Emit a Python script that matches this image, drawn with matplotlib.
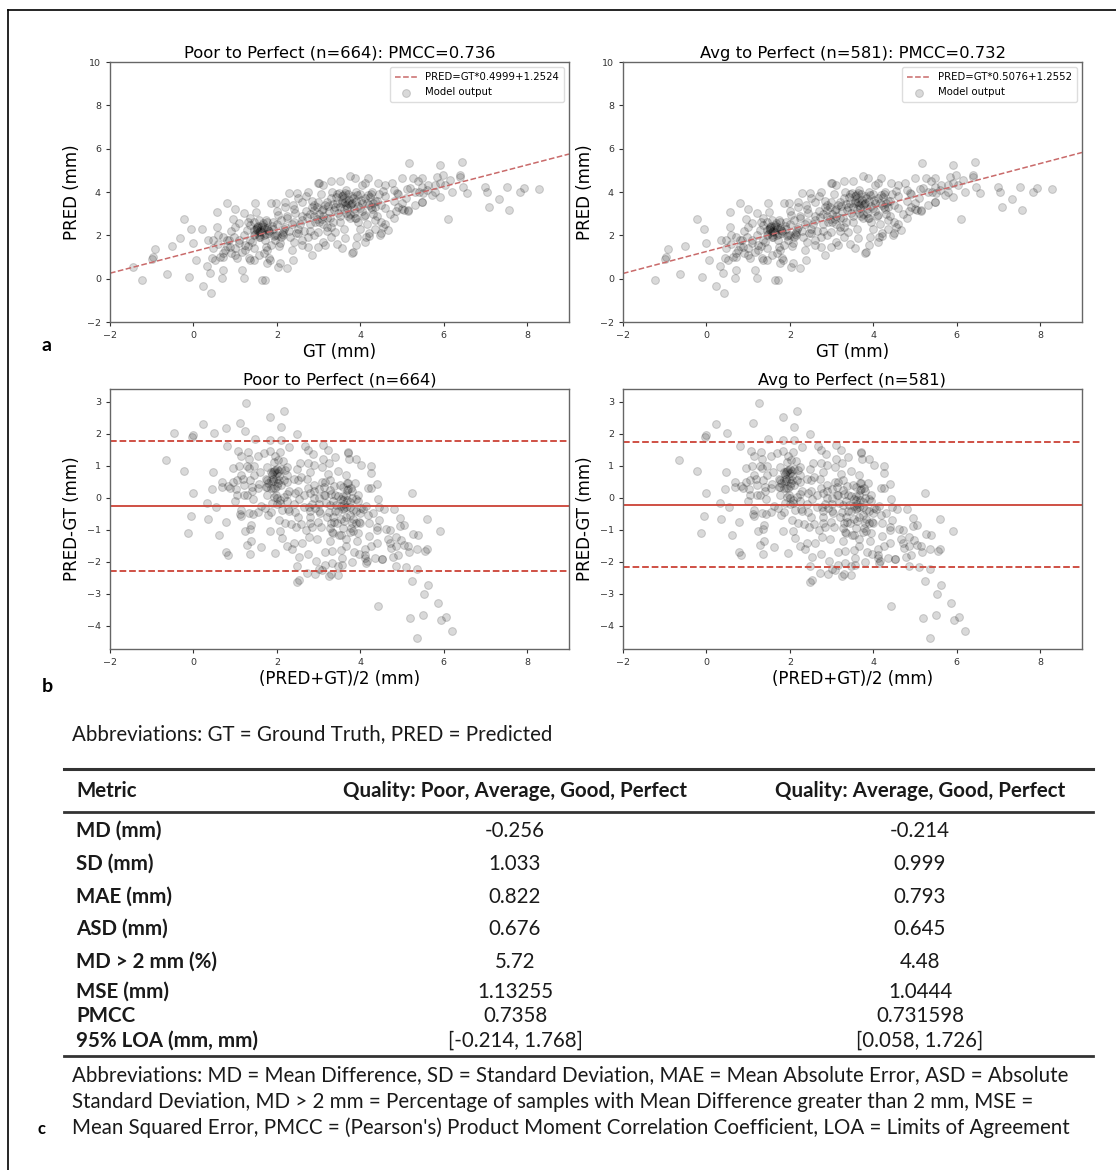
import matplotlib
matplotlib.use("Agg")
import matplotlib.pyplot as plt
from matplotlib.lines import Line2D
import numpy as np

# ---------------- data ----------------
gt = [-1.46, -1.24, -1.00, -0.98, -0.92, -0.64, -0.51, -0.32, -0.23, -0.10,
      -0.06, 0.00, 0.06, 0.20, 0.24, 0.32, 0.34, 0.40, 0.43, 0.44,
      0.48, 0.56, 0.57, 0.60, 0.64, 0.69, 0.70, 0.76, 0.81, 0.85,
      0.89, 0.94, 1.00, 1.04, 1.08, 1.10, 1.16, 1.20, 1.23, 1.28,
      1.32, 1.36, 1.40, 1.48, 1.50, 1.52, 1.56, 1.64, 1.72, 1.68,
      1.74, 1.76, 1.20, 1.36, 1.44, 1.56, 1.64, 1.76, 1.52, 1.64,
      1.76, 1.44, 1.60, 1.72, 1.36, 1.24, 1.16, 1.44, 1.56, 1.76,
      1.36, 1.44, 1.80, 0.88, 0.80, 0.96, 0.72, 0.48, 0.52, 0.72,
      1.00,
      5.16, 3.75, 3.87, 2.99, 3.11, 4.19, 4.43, 4.99, 5.27, 5.39,
      5.47, 4.75, 4.03, 3.51, 2.29, 2.47, 2.75, 3.31, 3.63, 3.91,
      4.27, 4.55, 4.87, 5.11, 5.31, 1.87, 1.99, 2.19, 2.39, 2.59,
      2.83, 3.07, 3.19, 3.55, 3.75, 4.03, 4.35, 4.59, 4.91, 5.15,
      5.47, 1.75, 2.03, 2.23, 2.43, 2.71, 2.91, 3.27, 3.47, 3.87,
      4.11, 4.35, 4.55, 1.79, 1.95, 2.15, 2.31, 2.51, 2.75, 2.99,
      3.19, 3.39, 3.63, 3.91, 4.11, 4.67, 4.47, 1.87, 2.07, 2.35,
      2.59, 2.75, 2.99, 3.55, 3.83, 2.83, 1.83, 2.07, 2.23, 2.03,
      2.39,
      5.92, 6.43, 5.47, 5.63, 5.83, 5.97, 6.15, 6.39, 6.39, 5.79,
      6.03, 6.19, 6.47, 6.55, 5.51, 5.71, 5.91, 5.47, 6.99, 7.03,
      7.52, 7.83, 7.92, 8.28, 7.08, 7.32, 7.56, 6.11,
      2.60, 2.70, 2.80, 2.85, 2.90, 2.95, 3.00, 3.05, 3.10, 3.15,
      3.20, 3.25, 3.30, 3.35, 3.40, 3.45, 3.50, 3.55, 3.60, 3.65,
      3.70, 3.75, 3.80, 3.85, 3.90, 3.95, 4.00, 4.05, 4.10, 4.15,
      4.20, 4.25, 4.30, 4.35, 4.40, 4.45, 4.50, 4.60, 4.70, 4.80,
      4.90, 5.00, 5.10, 5.20, 5.30,
      3.60, 3.70, 3.65, 3.55, 3.45, 3.80, 3.90, 4.30, 4.25, 4.40,
      3.00, 3.10, 2.90, 3.20, 2.80, 3.70, 3.90, 3.75,
      1.50, 1.60, 1.55, 1.70, 1.80, 1.90, 2.00, 2.10, 2.00, 2.10,
      2.20, 2.30, 2.40, 2.50, 2.60, 1.95, 2.05, 2.15, 2.25, 2.45,
      2.55, 2.65, 2.35, 2.40, 2.60, 2.80, 2.90, 3.10, 3.30, 3.50,
      3.60, 3.30, 3.10, 2.95, 4.00, 4.20, 4.50, 4.80, 4.85, 5.00,
      1.30, 1.20, 1.10, 1.00, 0.90, 1.30, 1.00, 0.80, 0.70, 0.60,
      1.90, 2.00, 2.20, 2.50, 2.70, 2.40, 3.00, 3.30, 4.60, 4.80,
      4.10, 5.40, 5.60, 5.80, 5.90,
      3.79, 3.16, 4.13, 4.50, 4.20, 3.45, 3.90, 4.35, 4.60, 5.05,
      5.15,
      1.45, 1.52, 1.58, 1.62, 1.68, 1.74, 1.82, 1.88, 1.48, 1.66,
      1.92, 2.12, 2.18, 1.56, 1.70, 3.35, 3.42, 3.52, 3.58, 3.62,
      3.68, 3.72, 3.78, 3.85, 3.95, 4.02, 4.08, 4.15, 4.22, 4.28,
      3.38, 3.48, 3.66, 3.82, 3.98, 4.18, 2.88, 2.98, 3.08, 3.22]
pred = [0.55, -0.06, 0.91, 0.98, 1.38, 0.20, 1.51, 1.86, 2.74, 0.06,
        2.28, 1.63, 0.86, 2.28, -0.34, 0.59, 1.79, 0.25, -0.68, 0.94,
        1.40, 3.09, 2.40, 2.02, 1.02, 0.02, 0.40, 1.33, 3.51, 1.79,
        1.17, 2.74, 3.22, 0.94, 1.63, 2.56, 0.40, 0.02, 1.33, 2.25,
        0.94, 2.79, 1.71, 3.48, 3.09, 2.40, 2.02, -0.06, -0.06, 1.17,
        1.48, 0.71, 3.02, 2.48, 2.63, 2.71, 2.48, 2.63, 2.25, 2.17,
        2.32, 2.02, 1.94, 1.79, 1.79, 1.56, 1.25, 1.40, 1.09, 1.32,
        0.86, 0.86, 0.94, 1.48, 1.79, 1.94, 1.94, 1.79, 0.86, 1.02,
        1.09,
        5.32, 4.74, 4.63, 4.43, 4.33, 4.63, 4.40, 4.63, 4.63, 4.52,
        4.25, 4.40, 4.33, 4.52, 3.94, 3.97, 4.02, 4.02, 3.94, 3.86,
        4.02, 4.06, 3.94, 4.13, 4.02, 3.48, 3.48, 3.55, 3.40, 3.55,
        3.32, 3.17, 3.55, 3.51, 3.40, 3.48, 3.32, 3.25, 3.32, 3.17,
        3.55, 2.71, 2.94, 2.79, 3.02, 2.86, 2.63, 2.79, 3.02, 2.79,
        2.94, 2.71, 2.40, 2.25, 2.02, 2.17, 1.94, 2.09, 1.94, 2.17,
        2.40, 2.17, 1.86, 1.94, 1.71, 2.25, 2.02, 1.56, 1.63, 1.32,
        1.56, 1.48, 1.48, 1.40, 1.25, 1.09, 0.86, 0.71, 0.48, 0.56,
        0.86,
        5.25, 5.40, 4.63, 4.32, 4.71, 4.79, 4.55, 4.79, 4.71, 4.32,
        4.32, 4.02, 4.25, 3.94, 3.94, 3.86, 3.79, 3.55, 4.25, 4.02,
        4.22, 4.02, 4.20, 4.12, 3.32, 3.66, 3.17, 2.74,
        2.70, 3.10, 2.50, 3.60, 2.90, 3.30, 2.60, 3.90, 2.90, 3.40,
        2.20, 3.10, 3.70, 2.60, 3.30, 3.90, 2.90, 3.60, 3.20, 4.10,
        3.50, 2.80, 3.80, 3.20, 3.60, 2.60, 3.90, 3.10, 3.70, 2.50,
        3.40, 3.90, 3.00, 3.60, 2.90, 3.90, 3.40, 3.80, 3.00, 3.60,
        3.90, 3.20, 3.70, 4.20, 3.40,
        3.70, 3.90, 3.40, 3.80, 3.50, 3.50, 4.00, 3.50, 3.30, 3.60,
        3.00, 3.20, 3.40, 2.80, 3.00, 2.90, 2.80, 3.00,
        2.30, 2.20, 2.45, 2.00, 2.10, 2.30, 2.00, 1.90, 2.50, 2.70,
        2.40, 2.20, 2.60, 2.30, 2.90, 1.80, 1.50, 2.00, 2.90, 2.10,
        2.50, 2.20, 2.50, 1.70, 1.80, 2.20, 2.00, 2.50, 2.40, 2.60,
        2.30, 1.90, 1.70, 2.75, 2.30, 2.10, 2.60, 2.80, 3.10, 3.50,
        1.50, 2.00, 1.80, 1.40, 2.20, 2.60, 2.40, 1.50, 1.20, 1.60,
        2.60, 3.10, 3.30, 3.70, 3.80, 3.20, 4.40, 4.50, 4.30, 4.10,
        4.40, 4.00, 4.10, 4.00, 4.40,
        1.17, 1.57, 1.90, 2.10, 1.95, 1.60, 1.55, 2.30, 2.50, 3.15,
        3.10,
        2.25, 2.35, 2.15, 2.40, 2.28, 2.05, 2.20, 2.45, 2.05, 2.55,
        1.95, 2.05, 2.30, 1.90, 2.38, 3.45, 3.75, 3.30, 3.85, 3.55,
        3.25, 3.65, 3.45, 3.05, 3.35, 3.65, 2.90, 3.50, 3.75, 3.20,
        3.15, 3.95, 3.05, 3.70, 3.25, 3.85, 3.15, 3.55, 2.75, 3.35]
poor_idx = [0, 7, 13]          # samples of "Poor" quality (absent in the right panels)

fit_left = (0.4999, 1.2524)
fit_right = (0.5076, 1.2552)
md_vals = [-0.256, -0.214]
sd_vals = [1.033, 0.999]
n_vals = [664, 581]
pmcc_vals = [0.736, 0.732]

table_metrics = ["MD (mm)", "SD (mm)", "MAE (mm)", "ASD (mm)", "MD > 2 mm (%)",
                 "MSE (mm)", "PMCC", "95% LOA (mm, mm)"]
table_col1 = ["-0.256", "1.033", "0.822", "0.676", "5.72", "1.13255", "0.7358",
              "[-0.214, 1.768]"]
table_col2 = ["-0.214", "0.999", "0.793", "0.645", "4.48", "1.0444", "0.731598",
              "[0.058, 1.726]"]
table_headers = ["Metric", "Quality: Poor, Average, Good, Perfect",
                 "Quality: Average, Good, Perfect"]

# ---------------- figure ----------------
W, H = 1116, 1170
fig = plt.figure(figsize=(W / 100, H / 100), dpi=100)
fig.patch.set_facecolor("white")


def box(l, t, r, b):
    return [l / W, 1 - b / H, (r - l) / W, (b - t) / H]


def fx(x):
    return x / W


def fy(y):
    return 1 - y / H


gt_a = np.array(gt)
pred_a = np.array(pred)
mask_right = np.ones(len(gt_a), dtype=bool)
mask_right[poor_idx] = False
sets = [(gt_a, pred_a), (gt_a[mask_right], pred_a[mask_right])]
names = ["Poor to Perfect", "Avg to Perfect"]
fits = [fit_left, fit_right]
lefts = [(110, 569), (623, 1082)]

spine_col = "#666666"
tick_col = "#333333"
red = "#cc4236"
pt_alpha = 0.15


def style_axes(ax):
    for s in ax.spines.values():
        s.set_color(spine_col)
        s.set_linewidth(1.0)
    ax.tick_params(labelsize=6.8, colors=tick_col, length=3, width=0.8)


for i in range(2):
    g, p = sets[i]
    l, r = lefts[i]
    # ---- scatter panel ----
    ax = fig.add_axes(box(l, 62, r, 322))
    xs = np.array([-2, 9])
    ax.plot(xs, xs * fits[i][0] + fits[i][1], ls="--", color="#c96a6a", lw=1.1,
            label=f"PRED=GT*{fits[i][0]:.4f}+{fits[i][1]:.4f}")
    ax.scatter(g, p, s=32, color="black", alpha=pt_alpha, linewidths=0.8,
               label="Model output")
    ax.set_xlim(-2, 9)
    ax.set_ylim(-2, 10)
    ax.set_xticks([-2, 0, 2, 4, 6, 8])
    ax.set_yticks([-2, 0, 2, 4, 6, 8, 10])
    ax.set_title(f"{names[i]} (n={n_vals[i]}): PMCC={pmcc_vals[i]:.3f}",
                 fontsize=11.8, pad=3)
    ax.set_xlabel("GT (mm)", fontsize=12, labelpad=2)
    ax.set_ylabel("PRED (mm)", fontsize=12, labelpad=4)
    style_axes(ax)
    ax.legend(loc="upper right", fontsize=7.3, framealpha=1,
              edgecolor="#dddddd", borderpad=0.5, handlelength=2.2)
    # ---- Bland-Altman panel ----
    ax2 = fig.add_axes(box(l, 389, r, 649))
    mean_v = (g + p) / 2
    diff_v = p - g
    ax2.scatter(mean_v, diff_v, s=32, color="black", alpha=pt_alpha,
                linewidths=0.8)
    md = md_vals[i]
    loa = 1.96 * sd_vals[i]
    ax2.axhline(md, color=red, lw=1.3)
    ax2.axhline(md + loa, color=red, lw=1.3, ls="--")
    ax2.axhline(md - loa, color=red, lw=1.3, ls="--")
    ax2.set_xlim(-2, 9)
    ax2.set_ylim(-4.73, 3.40)
    ax2.set_xticks([-2, 0, 2, 4, 6, 8])
    ax2.set_yticks([-4, -3, -2, -1, 0, 1, 2, 3])
    ax2.set_title(f"{names[i]} (n={n_vals[i]})", fontsize=11.8, pad=3)
    ax2.set_xlabel("(PRED+GT)/2 (mm)", fontsize=12, labelpad=2)
    ax2.set_ylabel("PRED-GT (mm)", fontsize=12, labelpad=4)
    style_axes(ax2)

# panel letters
fig.text(fx(47), fy(345), "a", fontsize=14, fontweight="bold", ha="center",
         va="center", family="Lato")
fig.text(fx(47), fy(686), "b", fontsize=14, fontweight="bold", ha="center",
         va="center", family="Lato")
fig.text(fx(42), fy(1129), "c", fontsize=12, fontweight="bold", ha="center",
         va="center", family="Lato")

# frame (left and top edges)
fig.add_artist(Line2D([fx(8), fx(8)], [fy(10), 0], color="black", lw=1.2))
fig.add_artist(Line2D([fx(8), 1], [fy(10), fy(10)], color="black", lw=1.2))

# ---------------- table ----------------
tfont = "Lato"
tcol = "#1a1a1a"
tsize = 14.8
fig.text(fx(72), fy(734), "Abbreviations: GT = Ground Truth, PRED = Predicted",
         fontsize=tsize, family=tfont, color=tcol, va="center", ha="left")

rule_col = "#333333"
for yy, lw in [(769, 2.2), (812, 2.0), (1056, 2.0)]:
    fig.add_artist(Line2D([fx(64), fx(1093)], [fy(yy), fy(yy)], color=rule_col,
                          lw=lw))

col_x = [76, 515, 920]
fig.text(fx(col_x[0]), fy(791), table_headers[0], fontsize=tsize, family=tfont,
         fontweight="bold", color=tcol, va="center", ha="left")
fig.text(fx(col_x[1]), fy(791), table_headers[1], fontsize=tsize, family=tfont,
         fontweight="bold", color=tcol, va="center", ha="center")
fig.text(fx(col_x[2]), fy(791), table_headers[2], fontsize=tsize, family=tfont,
         fontweight="bold", color=tcol, va="center", ha="center")

row_y = [831, 864, 897, 929, 962, 992, 1016, 1041]
for k in range(len(table_metrics)):
    fig.text(fx(col_x[0]), fy(row_y[k]), table_metrics[k], fontsize=tsize,
             family=tfont, fontweight="bold", color=tcol, va="center", ha="left")
    fig.text(fx(col_x[1]), fy(row_y[k]), table_col1[k], fontsize=tsize,
             family=tfont, color=tcol, va="center", ha="center")
    fig.text(fx(col_x[2]), fy(row_y[k]), table_col2[k], fontsize=tsize,
             family=tfont, color=tcol, va="center", ha="center")

abbr_lines = [
    "Abbreviations: MD = Mean Difference, SD = Standard Deviation, MAE = Mean Absolute Error, ASD = Absolute",
    "Standard Deviation, MD > 2 mm = Percentage of samples with Mean Difference greater than 2 mm, MSE =",
    "Mean Squared Error, PMCC = (Pearson's) Product Moment Correlation Coefficient, LOA = Limits of Agreement",
]
for yy, line in zip([1075, 1102, 1128], abbr_lines):
    fig.text(fx(72), fy(yy), line, fontsize=tsize, family=tfont, color=tcol,
             va="center", ha="left")

fig.savefig("out.png", dpi=100, facecolor="white")
